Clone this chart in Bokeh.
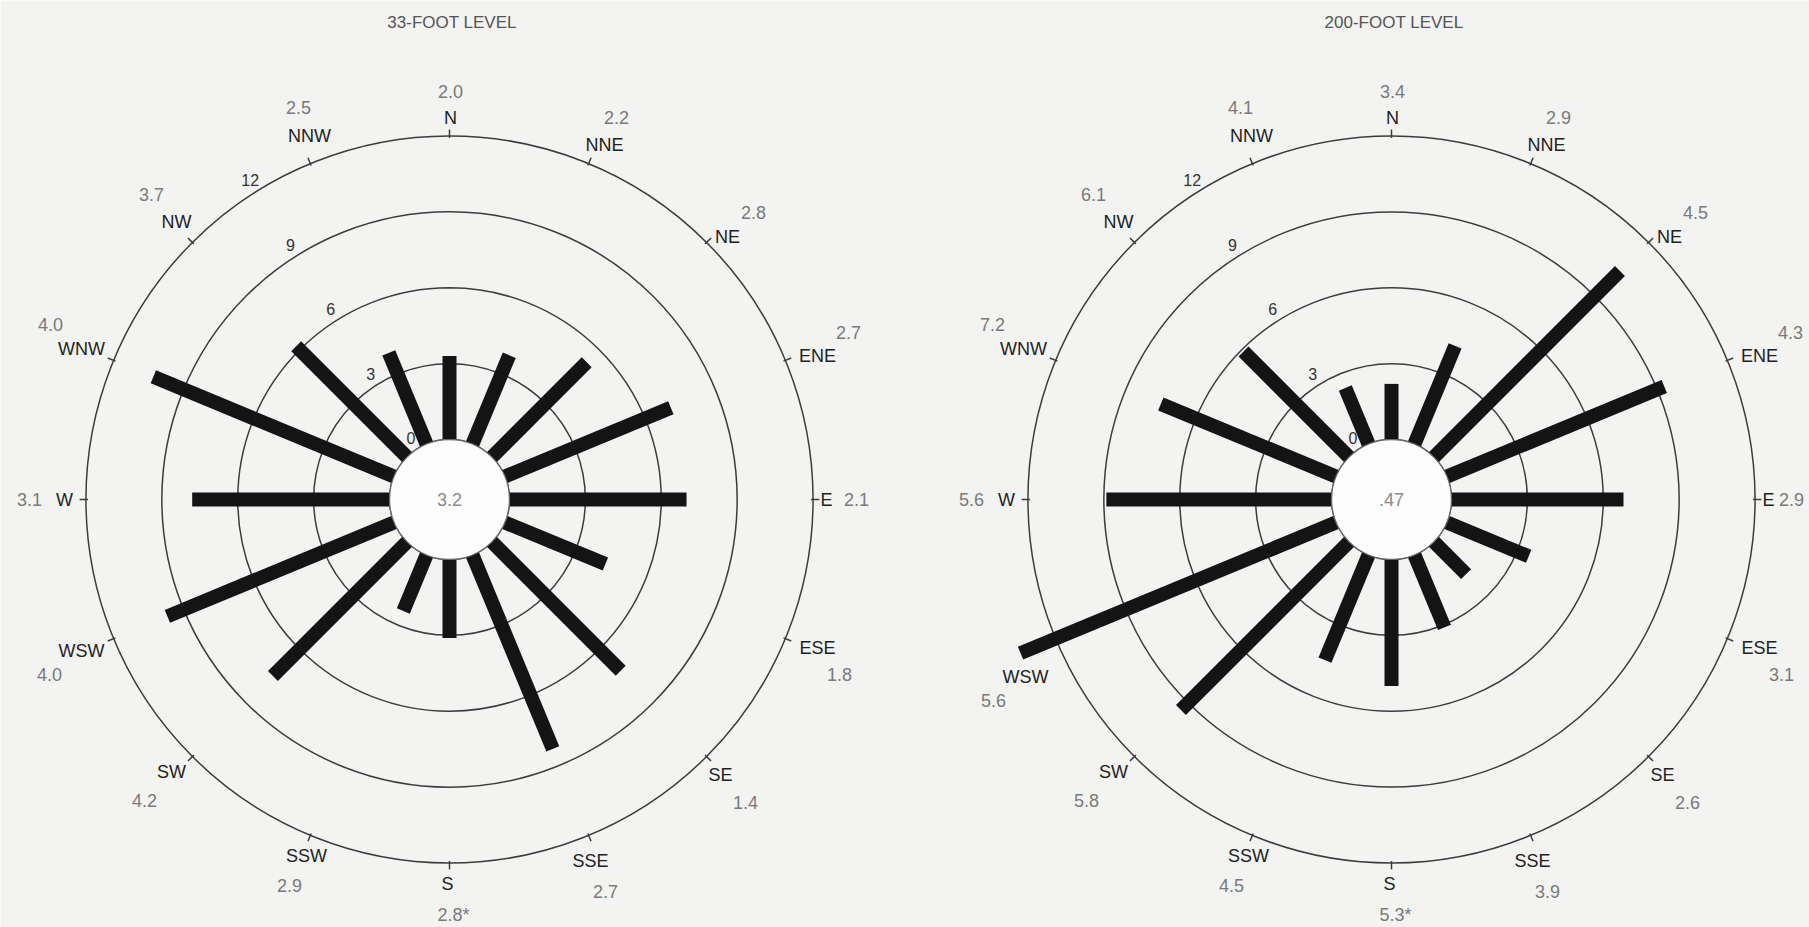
import numpy as np
from bokeh.plotting import figure
from bokeh.models import Range1d, ColumnDataSource
from bokeh.core.properties import value
from bokeh.embed import file_html
from bokeh.resources import INLINE

# ---------------- data ----------------
directions = ["N", "NNE", "NE", "ENE", "E", "ESE", "SE", "SSE",
              "S", "SSW", "SW", "WSW", "W", "WNW", "NW", "NNW"]
freq_33ft = [3.3, 3.8, 5.3, 7.1, 7.0, 4.3, 7.2, 8.3, 3.1, 2.4, 7.5, 9.7, 7.8, 10.3, 6.2, 3.9]
speed_33ft = ["2.0", "2.2", "2.8", "2.7", "2.1", "1.8", "1.4", "2.7",
              "2.8*", "2.9", "4.2", "4.0", "3.1", "4.0", "3.7", "2.5"]
calm_33ft = "3.2"
freq_200ft = [2.2, 4.2, 10.4, 9.3, 6.8, 3.5, 1.8, 3.1, 5.0, 4.5, 9.4, 13.5, 8.9, 7.5, 5.9, 2.4]
speed_200ft = ["3.4", "2.9", "4.5", "4.3", "2.9", "3.1", "2.6", "3.9",
               "5.3*", "4.5", "5.8", "5.6", "5.6", "7.2", "6.1", "4.1"]
calm_200ft = ".47"
ring_values = [0, 3, 6, 9, 12]
ring_labels = ["0", "3", "6", "9", "12"]
titles = ["33-FOOT LEVEL", "200-FOOT LEVEL"]

# ---------------- style / geometry (pixels) ----------------
BG = "#f3f3f1"
FONT = value("Liberation Sans")
PX = 25.3          # pixels per percent
R0 = 2.37          # radius of the calm circle (in percent units)
W, H = 1809, 927
CY = 499           # rose centres, px from top
CX_LEFT, CX_RIGHT = 449, 1391

# direction-label placement relative to the rose centre (px, y down)
LABEL_PX = [(1, -382), (155, -355), (278, -263), (368, -144), (377, 0), (368, 148),
            (271, 275), (141, 361), (-2, 384), (-143, 356), (-278, 272), (-368, 151),
            (-385, 0), (-368, -151), (-273, -278), (-140, -364)]
# mean-speed offset relative to its label (px, y down)
SPEED_PX = [(0, -26), (12, -27), (26, -24), (31, -23), (30, 0), (22, 27),
            (25, 28), (15, 31), (6, 31), (-17, 30), (-27, 29), (-32, 24),
            (-35, 0), (-31, -24), (-25, -27), (-11, -28)]

p = figure(width=W, height=H, output_backend="svg", toolbar_location=None,
           x_axis_type=None, y_axis_type=None, min_border=0,
           x_range=Range1d(0, W / PX), y_range=Range1d(-(H - CY) / PX, CY / PX))
p.background_fill_color = BG
p.border_fill_color = BG
p.outline_line_color = None
p.grid.visible = False


def rose(cx_px, freq, speeds, calm, title, nudge, speed_nudge):
    ox = cx_px / PX
    theta = np.deg2rad(np.arange(16) * 22.5)
    s, c = np.sin(theta), np.cos(theta)

    # rings
    rr = [R0 + v for v in ring_values]
    p.circle(x=[ox] * len(rr), y=[0] * len(rr), radius=rr, fill_color=None,
             line_color="#3c3c3c", line_width=1.5)
    # small ticks on the outer ring
    ro = R0 + ring_values[-1]
    p.segment(x0=ox + (ro - 0.08) * s, y0=(ro - 0.08) * c,
              x1=ox + (ro + 0.25) * s, y1=(ro + 0.25) * c,
              line_color="#3c3c3c", line_width=1.5)

    # bars
    f = np.array(freq)
    src = ColumnDataSource(dict(x0=ox + (R0 - 0.2) * s, y0=(R0 - 0.2) * c,
                                x1=ox + (R0 + f) * s, y1=(R0 + f) * c))
    p.segment(x0="x0", y0="y0", x1="x1", y1="y1", source=src,
              line_color="#141414", line_width=14, line_cap="butt")

    # calm circle
    p.circle(x=[ox], y=[0], radius=R0, fill_color="#fdfdfd", line_color="#6a6a6a", line_width=1.3)
    p.text(x=[ox], y=[0], text=[calm], text_font=FONT, text_font_size="18px",
           text_color="#8a8a8a", text_align="center", text_baseline="middle")

    # ring value labels
    a = np.deg2rad(-32.0)
    rl = np.array([R0 + v + 0.5 for v in ring_values])
    p.text(x=ox + rl * np.sin(a), y=rl * np.cos(a), text=ring_labels, text_font=FONT,
           text_font_size="16px", text_color="#333333", text_align="center",
           text_baseline="middle")

    # direction labels and mean speeds
    lx = np.array([q[0] for q in LABEL_PX], dtype=float)
    ly = np.array([q[1] for q in LABEL_PX], dtype=float)
    for i, (dx, dy) in nudge.items():
        lx[i] += dx
        ly[i] += dy
    sx = [q[0] for q in SPEED_PX]
    sy = [q[1] for q in SPEED_PX]
    for i, (dx, dy) in speed_nudge.items():
        sx[i] += dx
        sy[i] += dy
    lx, ly = ox + lx / PX, -ly / PX
    p.text(x=lx, y=ly, text=directions, text_font=FONT, text_font_size="18px",
           text_color="#222222", text_align="center", text_baseline="middle")
    p.text(x=lx, y=ly, x_offset=sx, y_offset=sy,
           text=speeds, text_font=FONT, text_font_size="18px", text_color="#7a7a7a",
           text_align="center", text_baseline="middle")

    # title
    p.text(x=[ox + 0.1], y=[(CY - 22) / PX], text=[title], text_font=FONT, text_font_size="17px",
           text_color="#555555", text_align="center", text_baseline="middle")


rose(CX_LEFT, freq_33ft, speed_33ft, calm_33ft, titles[0], {}, {})
rose(CX_RIGHT, freq_200ft, speed_200ft, calm_200ft, titles[1], {11: (2, 26)}, {4: (-7, 0)})

open("out.html", "w").write(file_html(p, INLINE))
